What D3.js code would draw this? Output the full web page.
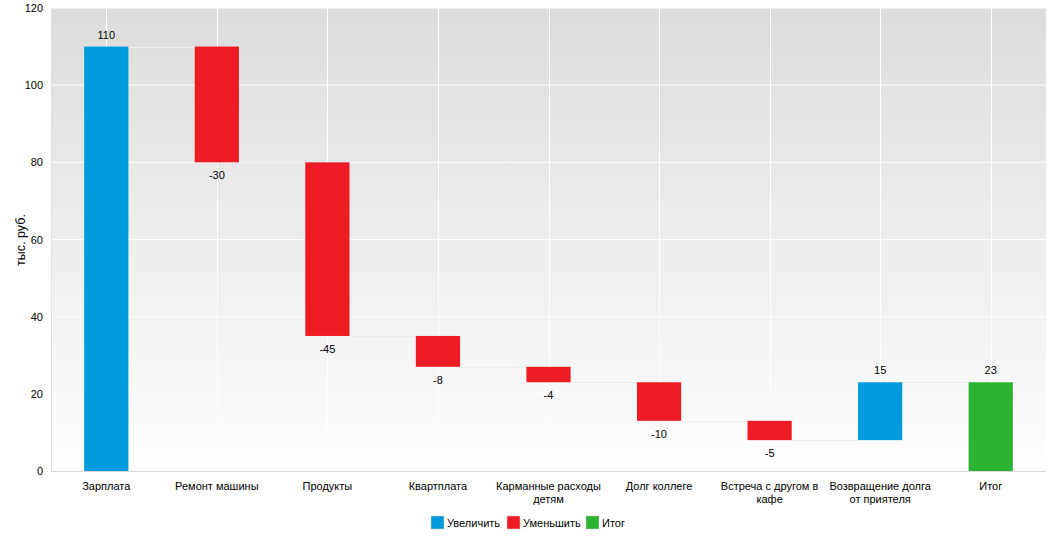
<!DOCTYPE html>
<html><head><meta charset="utf-8">
<script src="https://cdn.jsdelivr.net/npm/d3@7"></script>
<style>body{margin:0;background:#fff;} text{font-family:"Liberation Sans",Arial,sans-serif;}</style>
</head><body>
<svg id="c" width="1059" height="539"></svg>
<script>
const categories = ["Зарплата","Ремонт машины","Продукты","Квартплата","Карманные расходы детям","Долг коллеге","Встреча с другом в кафе","Возвращение долга от приятеля","Итог"];
const labelLines = [["Зарплата"],["Ремонт машины"],["Продукты"],["Квартплата"],["Карманные расходы","детям"],["Долг коллеге"],["Встреча с другом в","кафе"],["Возвращение долга","от приятеля"],["Итог"]];
const values = [110,-30,-45,-8,-4,-10,-5,15,23];
const isTotal = [false,false,false,false,false,false,false,false,true];
const yTicks = [0,20,40,60,80,100,120];
const legendNames = ["Увеличить","Уменьшить","Итог"];
const colors = {inc:"#009ADE", dec:"#ED1C24", tot:"#2DB232"};

const svg = d3.select("#c");
const m = {l:51, r:1046, t:8, b:471};
const x = d3.scaleBand().domain(categories).range([m.l, m.r]).paddingInner(0).paddingOuter(0);
const y = d3.scaleLinear().domain([0,120]).range([m.b, m.t]);

const defs = svg.append("defs");
const g = defs.append("linearGradient").attr("id","bg").attr("x1",0).attr("y1",0).attr("x2",0).attr("y2",1);
g.append("stop").attr("offset","0").attr("stop-color","#dcdcdc");
g.append("stop").attr("offset","1").attr("stop-color","#fefefe");
svg.append("rect").attr("x",m.l).attr("y",m.t).attr("width",m.r-m.l).attr("height",m.b-m.t).attr("fill","url(#bg)");

// grid
svg.append("g").selectAll("line").data(yTicks.slice(1)).join("line")
  .attr("x1",m.l).attr("x2",m.r).attr("y1",d=>y(d)).attr("y2",d=>y(d))
  .attr("stroke","#fff").attr("stroke-width",1);
svg.append("g").selectAll("line").data(categories).join("line")
  .attr("x1",d=>Math.round(x(d)+x.bandwidth()/2)+0.5).attr("x2",d=>Math.round(x(d)+x.bandwidth()/2)+0.5)
  .attr("y1",m.t).attr("y2",m.b).attr("stroke","#fff").attr("stroke-width",1);

// compute waterfall
let run = 0;
const bars = values.map((v,i)=>{
  let lo, hi, type;
  if (isTotal[i]) { lo = 0; hi = v; type="tot"; run = v; }
  else { const s = run; run = s + v; lo = Math.min(s, run); hi = Math.max(s, run); type = v>=0?"inc":"dec"; }
  return {cat:categories[i], v, lo, hi, type, end:run};
});

const bw = x.bandwidth()*0.4;
// connectors
svg.append("g").selectAll("line").data(bars.slice(0,-1)).join("line")
  .attr("x1",(d)=>x(d.cat)+x.bandwidth()/2+bw/2)
  .attr("x2",(d,i)=>x(bars[i+1].cat)+x.bandwidth()/2-bw/2)
  .attr("y1",d=>Math.round(y(d.end))+0.5).attr("y2",d=>Math.round(y(d.end))+0.5)
  .attr("stroke","#ededed").attr("stroke-width",1);

// axes lines
svg.append("line").attr("x1",m.l+0.5).attr("x2",m.l+0.5).attr("y1",m.t).attr("y2",m.b).attr("stroke","#e0e0e0");
svg.append("line").attr("x1",m.l).attr("x2",m.r).attr("y1",m.b+0.5).attr("y2",m.b+0.5).attr("stroke","#d8d8d8");

// bars
svg.append("g").selectAll("rect").data(bars).join("rect")
  .attr("x",d=>x(d.cat)+x.bandwidth()/2-bw/2)
  .attr("width",bw)
  .attr("y",d=>y(d.hi)).attr("height",d=>y(d.lo)-y(d.hi))
  .attr("fill",d=>colors[d.type]);

// value labels
svg.append("g").selectAll("text").data(bars).join("text")
  .attr("x",d=>x(d.cat)+x.bandwidth()/2)
  .attr("y",d=>d.v>=0 ? y(d.hi)-8 : y(d.lo)+17)
  .attr("text-anchor","middle").attr("font-size",11).attr("fill","#000")
  .text(d=>d.v);

// y tick labels
svg.append("g").selectAll("text").data(yTicks).join("text")
  .attr("x",43).attr("y",d=>y(d)+4).attr("text-anchor","end")
  .attr("font-size",11).attr("fill","#000").text(d=>d);

// y axis title
svg.append("text").attr("transform","translate(25,240) rotate(-90)")
  .attr("text-anchor","middle").attr("font-size",12.5).attr("fill","#000").text("тыс. руб.");

// x labels
const xl = svg.append("g").selectAll("text").data(categories).join("text")
  .attr("x",d=>x(d)+x.bandwidth()/2).attr("y",490)
  .attr("text-anchor","middle").attr("font-size",11).attr("fill","#000");
xl.each(function(d,i){
  d3.select(this).selectAll("tspan").data(labelLines[i]).join("tspan")
    .attr("x",x(d)+x.bandwidth()/2).attr("dy",(t,j)=>j===0?0:13).text(t=>t);
});

// legend
const legendColors = [colors.inc, colors.dec, colors.tot];
const lx = [431, 507, 586];
const lg = svg.append("g").selectAll("g").data(legendNames).join("g")
  .attr("transform",(d,i)=>`translate(${lx[i]},516)`);
lg.append("rect").attr("width",13).attr("height",13).attr("fill",(d,i)=>legendColors[i]).attr("stroke","#ccc").attr("stroke-width",0.5);
lg.append("text").attr("x",16).attr("y",10.5).attr("font-size",11).attr("fill","#000").text(d=>d);
</script>
</body></html>
